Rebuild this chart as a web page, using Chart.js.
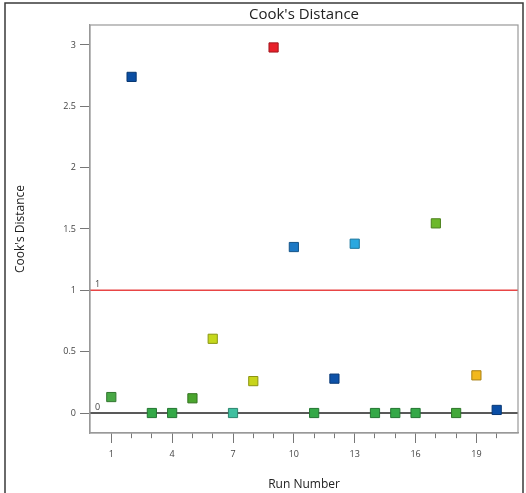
<!DOCTYPE html>
<html>
<head>
<meta charset="utf-8">
<script src="https://cdn.jsdelivr.net/npm/chart.js@4/dist/chart.umd.min.js"></script>
<style>
  html, body { margin: 0; padding: 0; background: #fff; }
  #wrap { width: 526px; height: 493px; position: relative; }
</style>
</head>
<body>
<div id="wrap"><canvas id="cooks"></canvas></div>
<script>
// Chart data
const runNumbers = [1, 2, 3, 4, 5, 6, 7, 8, 9, 10, 11, 12, 13, 14, 15, 16, 17, 18, 19, 20];
const cooksDistance = [0.13, 2.74, 0, 0, 0.12, 0.605, 0, 0.26, 2.98, 1.353, 0, 0.28, 1.38, 0, 0, 0, 1.546, 0, 0.307, 0.025];
const yTickValues = [0, 0.5, 1, 1.5, 2, 2.5, 3];
const xMajorTicks = [1, 4, 7, 10, 13, 16, 19];
const refLineValues = [0, 1];
const refLineLabels = ['0', '1'];

// point colours (run colour scale)
const pointColors = [
    '#48a845', '#0b4ea2', '#34a847', '#34a847', '#4aa52e', '#c5d81c', '#3fbf9f',
    '#c8d41a', '#e8202a', '#1c78c4', '#34a847', '#0e52a8', '#2aa8e0', '#34a847',
    '#34a847', '#34a847', '#6cb82a', '#43a83a', '#f2b81e', '#0a4ea6'
];

function darken(hex, f) {
    const n = parseInt(hex.slice(1), 16);
    const r = Math.round(((n >> 16) & 255) * f);
    const g = Math.round(((n >> 8) & 255) * f);
    const b = Math.round((n & 255) * f);
    return `rgb(${r}, ${g}, ${b})`;
}

const FONT = "'Open Sans', 'Noto Sans', sans-serif";

// reference lines + frames
const framePlugin = {
    id: 'frame',
    beforeDatasetsDraw(chart) {
        const ctx = chart.ctx;
        const area = chart.chartArea;
        const y = chart.scales.y;
        ctx.save();
        refLineValues.forEach((v, i) => {
            const py = y.getPixelForValue(v);
            ctx.strokeStyle = v === 0 ? '#222' : '#e84545';
            ctx.lineWidth = 1.5;
            ctx.beginPath();
            ctx.moveTo(area.left, py);
            ctx.lineTo(area.right, py);
            ctx.stroke();
            ctx.fillStyle = '#444';
            ctx.font = `9px ${FONT}`;
            ctx.textAlign = 'left';
            ctx.textBaseline = 'bottom';
            ctx.fillText(refLineLabels[i], area.left + 5, py - 1);
        });
        ctx.restore();
    },
    afterDraw(chart) {
        const ctx = chart.ctx;
        const area = chart.chartArea;
        ctx.save();
        ctx.strokeStyle = '#999';
        ctx.lineWidth = 1.2;
        ctx.strokeRect(area.left, area.top, area.right - area.left, area.bottom - area.top);
        // outer box
        ctx.strokeStyle = '#3a3a3a';
        ctx.lineWidth = 1.5;
        ctx.beginPath();
        ctx.moveTo(5, 493);
        ctx.lineTo(5, 3);
        ctx.lineTo(523, 3);
        ctx.lineTo(523, 493);
        ctx.stroke();
        ctx.restore();
    }
};

new Chart(document.getElementById('cooks'), {
    type: 'scatter',
    data: {
        datasets: [{
            label: "Cook's Distance",
            data: runNumbers.map((r, i) => ({ x: r, y: cooksDistance[i] })),
            pointStyle: 'rect',
            pointRadius: 6.5,
            pointHoverRadius: 6.5,
            backgroundColor: pointColors,
            borderColor: pointColors.map(c => darken(c, 0.7)),
            borderWidth: 1
        }]
    },
    options: {
        responsive: true,
        maintainAspectRatio: false,
        animation: false,
        layout: { padding: { left: 5, top: 0, right: 8, bottom: 0 } },
        plugins: {
            legend: { display: false },
            tooltip: { enabled: false },
            title: {
                display: true,
                fullSize: false,
                text: "Cook's Distance",
                color: '#222',
                font: { family: FONT, size: 15, weight: 'normal', lineHeight: 1.2 },
                padding: { top: 6, bottom: 1 }
            }
        },
        scales: {
            x: {
                type: 'linear',
                min: -0.05,
                max: 21.05,
                afterBuildTicks: (s) => { s.ticks = runNumbers.map(v => ({ value: v })); },
                afterFit: (s) => { s.height = 60; },
                border: { display: true, color: '#999', width: 1.2 },
                grid: {
                    drawOnChartArea: false,
                    tickLength: 10,
                    tickColor: '#777',
                    tickWidth: 1,
                    tickBorderDash: (c) => xMajorTicks.includes(c.tick && c.tick.value) ? [] : [5, 40]
                },
                ticks: {
                    autoSkip: false,
                    maxRotation: 0,
                    padding: 6,
                    color: '#444',
                    font: { family: FONT, size: 9 },
                    callback: (v) => xMajorTicks.includes(v) ? String(v) : ''
                },
                title: {
                    display: true,
                    text: 'Run Number',
                    color: '#222',
                    font: { family: FONT, size: 12 },
                    padding: { top: 0, bottom: 1 }
                }
            },
            y: {
                type: 'linear',
                min: -0.163,
                max: 3.163,
                afterBuildTicks: (s) => { s.ticks = yTickValues.map(v => ({ value: v })); },
                afterFit: (s) => { s.width = 85; },
                border: { display: true, color: '#999', width: 1.2 },
                grid: {
                    drawOnChartArea: false,
                    tickLength: 10,
                    tickColor: '#777',
                    tickWidth: 1
                },
                ticks: {
                    padding: 4,
                    color: '#444',
                    font: { family: FONT, size: 9 },
                    callback: (v) => String(v)
                },
                title: {
                    display: true,
                    text: "Cook's Distance",
                    color: '#222',
                    font: { family: FONT, size: 12 },
                    padding: { top: 8, bottom: 0 }
                }
            }
        }
    },
    plugins: [framePlugin]
});
</script>
</body>
</html>
